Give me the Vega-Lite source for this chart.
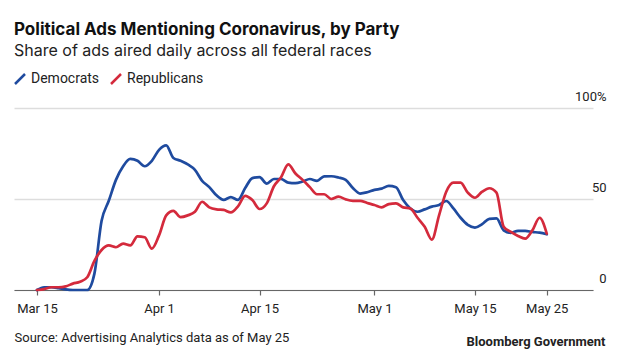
{
  "$schema": "https://vega.github.io/schema/vega-lite/v6.json",
  "width": 579,
  "height": 182,
  "autosize": {"type": "none"},
  "padding": {"left": 14, "top": 108, "right": 27, "bottom": 65},
  "config": {
    "font": "Roboto",
    "view": {"stroke": null}
  },
  "title": {
    "text": "Political Ads Mentioning Coronavirus, by Party",
    "subtitle": "Share of ads aired daily across all federal races",
    "anchor": "start",
    "frame": "group",
    "font": "Inter",
    "subtitleFont": "Inter",
    "fontSize": 17,
    "fontWeight": "bold",
    "color": "#111111",
    "subtitleFontSize": 16,
    "subtitleColor": "#222222",
    "subtitlePadding": 4,
    "offset": 12
  },
  "data": {
    "values": [
      {"date": "2020-03-15", "party": "Democrats", "share": 0},
      {"date": "2020-03-16", "party": "Democrats", "share": 1.5},
      {"date": "2020-03-17", "party": "Democrats", "share": 1.5},
      {"date": "2020-03-18", "party": "Democrats", "share": 1},
      {"date": "2020-03-19", "party": "Democrats", "share": 0.3},
      {"date": "2020-03-20", "party": "Democrats", "share": 0},
      {"date": "2020-03-21", "party": "Democrats", "share": 0},
      {"date": "2020-03-22", "party": "Democrats", "share": 0},
      {"date": "2020-03-23", "party": "Democrats", "share": 9},
      {"date": "2020-03-24", "party": "Democrats", "share": 38},
      {"date": "2020-03-25", "party": "Democrats", "share": 49},
      {"date": "2020-03-26", "party": "Democrats", "share": 60.5},
      {"date": "2020-03-27", "party": "Democrats", "share": 68},
      {"date": "2020-03-28", "party": "Democrats", "share": 72},
      {"date": "2020-03-29", "party": "Democrats", "share": 71},
      {"date": "2020-03-30", "party": "Democrats", "share": 68},
      {"date": "2020-03-31", "party": "Democrats", "share": 71},
      {"date": "2020-04-01", "party": "Democrats", "share": 77},
      {"date": "2020-04-02", "party": "Democrats", "share": 79.5},
      {"date": "2020-04-03", "party": "Democrats", "share": 72.5},
      {"date": "2020-04-04", "party": "Democrats", "share": 71},
      {"date": "2020-04-05", "party": "Democrats", "share": 69},
      {"date": "2020-04-06", "party": "Democrats", "share": 66},
      {"date": "2020-04-07", "party": "Democrats", "share": 60},
      {"date": "2020-04-08", "party": "Democrats", "share": 56.5},
      {"date": "2020-04-09", "party": "Democrats", "share": 52},
      {"date": "2020-04-10", "party": "Democrats", "share": 49.5},
      {"date": "2020-04-11", "party": "Democrats", "share": 51},
      {"date": "2020-04-12", "party": "Democrats", "share": 49.5},
      {"date": "2020-04-13", "party": "Democrats", "share": 56},
      {"date": "2020-04-14", "party": "Democrats", "share": 61.5},
      {"date": "2020-04-15", "party": "Democrats", "share": 62},
      {"date": "2020-04-16", "party": "Democrats", "share": 58.5},
      {"date": "2020-04-17", "party": "Democrats", "share": 61},
      {"date": "2020-04-18", "party": "Democrats", "share": 61},
      {"date": "2020-04-19", "party": "Democrats", "share": 59},
      {"date": "2020-04-20", "party": "Democrats", "share": 58.7},
      {"date": "2020-04-21", "party": "Democrats", "share": 59.6},
      {"date": "2020-04-22", "party": "Democrats", "share": 61},
      {"date": "2020-04-23", "party": "Democrats", "share": 60},
      {"date": "2020-04-24", "party": "Democrats", "share": 62.4},
      {"date": "2020-04-25", "party": "Democrats", "share": 62.5},
      {"date": "2020-04-26", "party": "Democrats", "share": 61.8},
      {"date": "2020-04-27", "party": "Democrats", "share": 60.5},
      {"date": "2020-04-28", "party": "Democrats", "share": 56},
      {"date": "2020-04-29", "party": "Democrats", "share": 53},
      {"date": "2020-04-30", "party": "Democrats", "share": 53.7},
      {"date": "2020-05-01", "party": "Democrats", "share": 55},
      {"date": "2020-05-02", "party": "Democrats", "share": 55.7},
      {"date": "2020-05-03", "party": "Democrats", "share": 57.2},
      {"date": "2020-05-04", "party": "Democrats", "share": 56.5},
      {"date": "2020-05-05", "party": "Democrats", "share": 49.4},
      {"date": "2020-05-06", "party": "Democrats", "share": 44.8},
      {"date": "2020-05-07", "party": "Democrats", "share": 43},
      {"date": "2020-05-08", "party": "Democrats", "share": 44.3},
      {"date": "2020-05-09", "party": "Democrats", "share": 45.8},
      {"date": "2020-05-10", "party": "Democrats", "share": 46.7},
      {"date": "2020-05-11", "party": "Democrats", "share": 48.9},
      {"date": "2020-05-12", "party": "Democrats", "share": 44.8},
      {"date": "2020-05-13", "party": "Democrats", "share": 39.7},
      {"date": "2020-05-14", "party": "Democrats", "share": 35.8},
      {"date": "2020-05-15", "party": "Democrats", "share": 34.3},
      {"date": "2020-05-16", "party": "Democrats", "share": 36.2},
      {"date": "2020-05-17", "party": "Democrats", "share": 39.1},
      {"date": "2020-05-18", "party": "Democrats", "share": 39.3},
      {"date": "2020-05-19", "party": "Democrats", "share": 32.8},
      {"date": "2020-05-20", "party": "Democrats", "share": 31.4},
      {"date": "2020-05-21", "party": "Democrats", "share": 32.5},
      {"date": "2020-05-22", "party": "Democrats", "share": 32.5},
      {"date": "2020-05-23", "party": "Democrats", "share": 31.9},
      {"date": "2020-05-24", "party": "Democrats", "share": 31.5},
      {"date": "2020-05-25", "party": "Democrats", "share": 30.6},
      {"date": "2020-03-15", "party": "Republicans", "share": 0},
      {"date": "2020-03-16", "party": "Republicans", "share": 0.5},
      {"date": "2020-03-17", "party": "Republicans", "share": 1.5},
      {"date": "2020-03-18", "party": "Republicans", "share": 1.5},
      {"date": "2020-03-19", "party": "Republicans", "share": 2},
      {"date": "2020-03-20", "party": "Republicans", "share": 3.5},
      {"date": "2020-03-21", "party": "Republicans", "share": 4.5},
      {"date": "2020-03-22", "party": "Republicans", "share": 7},
      {"date": "2020-03-23", "party": "Republicans", "share": 16},
      {"date": "2020-03-24", "party": "Republicans", "share": 22},
      {"date": "2020-03-25", "party": "Republicans", "share": 24.5},
      {"date": "2020-03-26", "party": "Republicans", "share": 23.5},
      {"date": "2020-03-27", "party": "Republicans", "share": 25.5},
      {"date": "2020-03-28", "party": "Republicans", "share": 24.5},
      {"date": "2020-03-29", "party": "Republicans", "share": 29.5},
      {"date": "2020-03-30", "party": "Republicans", "share": 29},
      {"date": "2020-03-31", "party": "Republicans", "share": 22.7},
      {"date": "2020-04-01", "party": "Republicans", "share": 30},
      {"date": "2020-04-02", "party": "Republicans", "share": 41},
      {"date": "2020-04-03", "party": "Republicans", "share": 43.5},
      {"date": "2020-04-04", "party": "Republicans", "share": 40},
      {"date": "2020-04-05", "party": "Republicans", "share": 41},
      {"date": "2020-04-06", "party": "Republicans", "share": 43},
      {"date": "2020-04-07", "party": "Republicans", "share": 48.5},
      {"date": "2020-04-08", "party": "Republicans", "share": 45.4},
      {"date": "2020-04-09", "party": "Republicans", "share": 44.3},
      {"date": "2020-04-10", "party": "Republicans", "share": 44},
      {"date": "2020-04-11", "party": "Republicans", "share": 42.6},
      {"date": "2020-04-12", "party": "Republicans", "share": 46},
      {"date": "2020-04-13", "party": "Republicans", "share": 51.7},
      {"date": "2020-04-14", "party": "Republicans", "share": 49.4},
      {"date": "2020-04-15", "party": "Republicans", "share": 44.5},
      {"date": "2020-04-16", "party": "Republicans", "share": 47.6},
      {"date": "2020-04-17", "party": "Republicans", "share": 57},
      {"date": "2020-04-18", "party": "Republicans", "share": 62},
      {"date": "2020-04-19", "party": "Republicans", "share": 69},
      {"date": "2020-04-20", "party": "Republicans", "share": 64},
      {"date": "2020-04-21", "party": "Republicans", "share": 60.5},
      {"date": "2020-04-22", "party": "Republicans", "share": 56.5},
      {"date": "2020-04-23", "party": "Republicans", "share": 52.6},
      {"date": "2020-04-24", "party": "Republicans", "share": 52.6},
      {"date": "2020-04-25", "party": "Republicans", "share": 50},
      {"date": "2020-04-26", "party": "Republicans", "share": 51.3},
      {"date": "2020-04-27", "party": "Republicans", "share": 49.8},
      {"date": "2020-04-28", "party": "Republicans", "share": 49},
      {"date": "2020-04-29", "party": "Republicans", "share": 49},
      {"date": "2020-04-30", "party": "Republicans", "share": 47.8},
      {"date": "2020-05-01", "party": "Republicans", "share": 46.7},
      {"date": "2020-05-02", "party": "Republicans", "share": 45.4},
      {"date": "2020-05-03", "party": "Republicans", "share": 47.2},
      {"date": "2020-05-04", "party": "Republicans", "share": 47.6},
      {"date": "2020-05-05", "party": "Republicans", "share": 45.4},
      {"date": "2020-05-06", "party": "Republicans", "share": 44.8},
      {"date": "2020-05-07", "party": "Republicans", "share": 39.7},
      {"date": "2020-05-08", "party": "Republicans", "share": 34.7},
      {"date": "2020-05-09", "party": "Republicans", "share": 27.7},
      {"date": "2020-05-10", "party": "Republicans", "share": 41},
      {"date": "2020-05-11", "party": "Republicans", "share": 54},
      {"date": "2020-05-12", "party": "Republicans", "share": 59},
      {"date": "2020-05-13", "party": "Republicans", "share": 59},
      {"date": "2020-05-14", "party": "Republicans", "share": 53.5},
      {"date": "2020-05-15", "party": "Republicans", "share": 50.7},
      {"date": "2020-05-16", "party": "Republicans", "share": 54},
      {"date": "2020-05-17", "party": "Republicans", "share": 55.9},
      {"date": "2020-05-18", "party": "Republicans", "share": 53.5},
      {"date": "2020-05-19", "party": "Republicans", "share": 34.7},
      {"date": "2020-05-20", "party": "Republicans", "share": 31.9},
      {"date": "2020-05-21", "party": "Republicans", "share": 29.7},
      {"date": "2020-05-22", "party": "Republicans", "share": 28.2},
      {"date": "2020-05-23", "party": "Republicans", "share": 32.8},
      {"date": "2020-05-24", "party": "Republicans", "share": 39.7},
      {"date": "2020-05-25", "party": "Republicans", "share": 31}
    ]
  },
  "mark": {"type": "line", "interpolate": "monotone", "strokeWidth": 2.7, "strokeCap": "round", "strokeJoin": "round"},
  "encoding": {
    "x": {
      "field": "date",
      "type": "temporal",
      "scale": {
        "type": "utc",
        "domain": [
          {"year": 2020, "month": "mar", "date": 11, "hours": 19, "minutes": 12, "utc": true},
          {"year": 2020, "month": "may", "date": 31, "hours": 10, "minutes": 34, "utc": true}
        ]
      },
      "axis": {
        "values": [
          {"year": 2020, "month": "mar", "date": 15, "utc": true},
          {"year": 2020, "month": "apr", "date": 1, "utc": true},
          {"year": 2020, "month": "apr", "date": 15, "utc": true},
          {"year": 2020, "month": "may", "date": 1, "utc": true},
          {"year": 2020, "month": "may", "date": 15, "utc": true},
          {"year": 2020, "month": "may", "date": 25, "utc": true}
        ],
        "labelExpr": "utcFormat(datum.value, '%b %-d')",
        "grid": false,
        "domainColor": "#666666",
        "domainWidth": 1.2,
        "tickColor": "#666666",
        "tickWidth": 1.2,
        "tickSize": 5,
        "labelPadding": 7,
        "labelFontSize": 13,
        "labelColor": "#222222",
        "labelFlush": false,
        "labelOverlap": false,
        "title": "Source: Advertising Analytics data as of May 25",
        "titleFontSize": 13,
        "titleFontWeight": "normal",
        "titleColor": "#222222",
        "titleAnchor": "start",
        "titleAlign": "left",
        "titleBaseline": "alphabetic",
        "titleX": 0,
        "titleY": 51
      }
    },
    "y": {
      "field": "share",
      "type": "quantitative",
      "scale": {"domain": [0, 100], "nice": false},
      "axis": {
        "orient": "right",
        "values": [0, 50, 100],
        "labelExpr": "datum.value == 100 ? '100%' : datum.label + '\u00a0\u00a0\u00a0\u00a0'",
        "domain": false,
        "ticks": false,
        "grid": true,
        "gridColor": "#dddddd",
        "gridWidth": 1.3,
        "labelAlign": "right",
        "labelBaseline": "alphabetic",
        "labelOffset": -8,
        "labelPadding": 13,
        "labelFontSize": 13,
        "labelColor": "#222222",
        "title": "Bloomberg Government",
        "titleFontSize": 13,
        "titleFontWeight": "bold",
        "titleColor": "#222222",
        "titleAngle": 0,
        "titleAlign": "right",
        "titleBaseline": "alphabetic",
        "titleX": 12,
        "titleY": 237
      }
    },
    "color": {
      "field": "party",
      "type": "nominal",
      "scale": {"domain": ["Democrats", "Republicans"], "range": ["#1f4b9f", "#d42a3c"]},
      "legend": {
        "title": null,
        "orient": "none",
        "direction": "horizontal",
        "legendX": -1,
        "legendY": -36,
        "padding": 0,
        "symbolType": "M-1,1L1,-1",
        "symbolSize": 100,
        "symbolStrokeWidth": 2.5,
        "symbolFillColor": "transparent",
        "labelFontSize": 14,
        "labelColor": "#222222",
        "labelOffset": 4,
        "columnPadding": 6
      }
    }
  }
}
